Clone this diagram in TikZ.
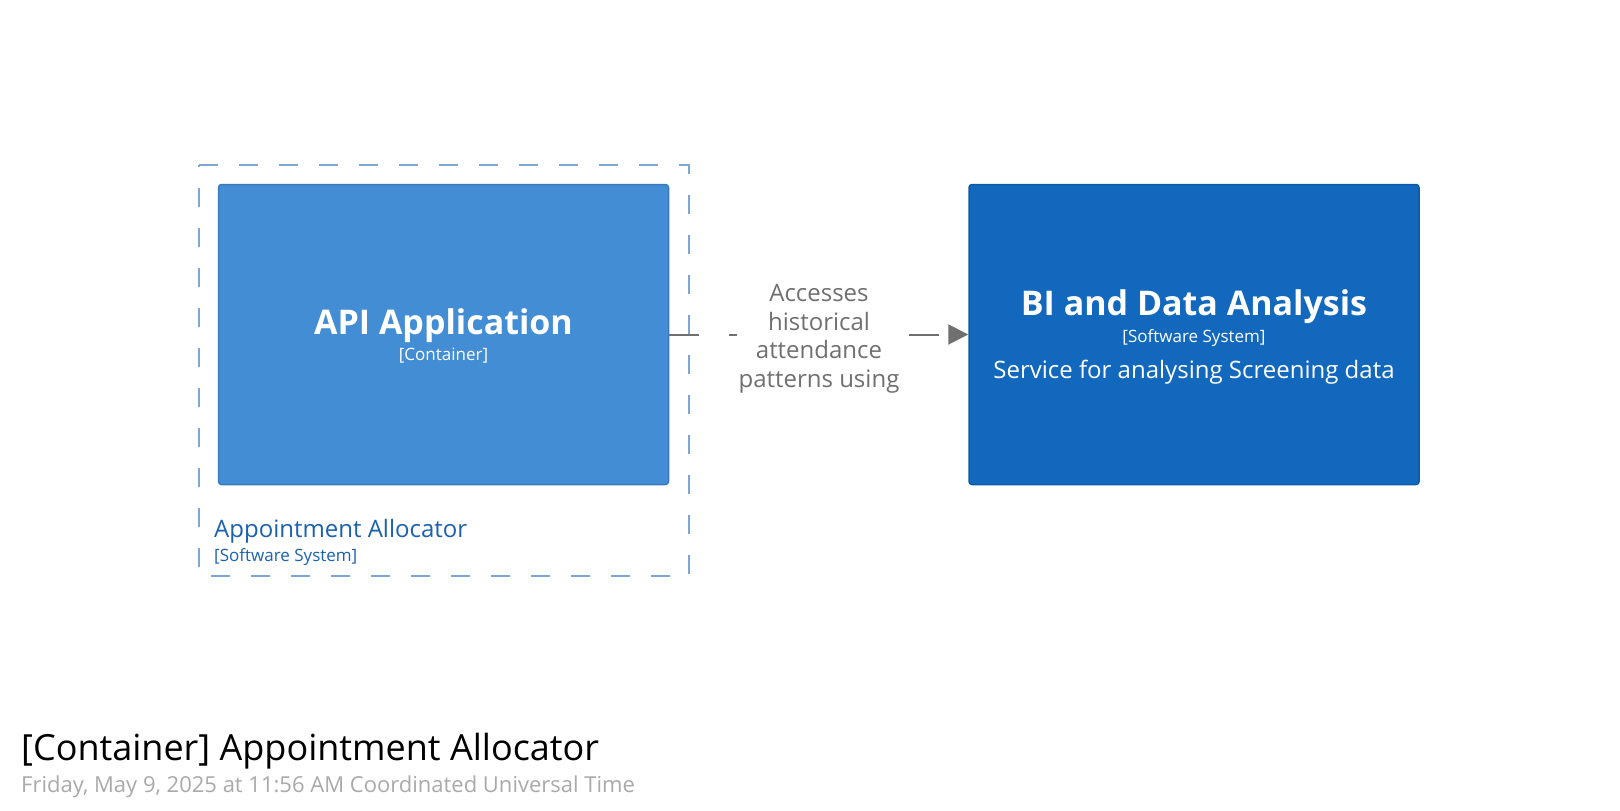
\documentclass[tikz,border=0pt]{standalone}
\usepackage{fontspec}
\setmainfont{Open Sans}
\usetikzlibrary{arrows.meta}
\definecolor{apifill}{HTML}{438DD5}
\definecolor{apiedge}{HTML}{3A7BBF}
\definecolor{bifill}{HTML}{1168BD}
\definecolor{biedge}{HTML}{0E5AA6}
\definecolor{bndline}{HTML}{7FA7D4}
\definecolor{bndtext}{HTML}{1A62AE}
\definecolor{relgray}{HTML}{707070}
\definecolor{dategray}{HTML}{AAAAAA}
\newcommand\fsz[2]{\fontsize{#1}{#2}\selectfont}
\begin{document}
\begin{tikzpicture}[x=1pt,y=-1pt,
  elem/.style={draw, line width=1.5pt, rounded corners=3pt, minimum width=450pt, minimum height=300pt, inner sep=0pt},
  apibox/.style={elem, fill=apifill, draw=apiedge},
  bibox/.style={elem, fill=bifill, draw=biedge},
  txt/.style={inner sep=0pt, anchor=base},
  nametext/.style={txt, text=white, font=\fsz{34}{40}\bfseries},
  typetext/.style={txt, text=white, font=\fsz{17}{20}},
  desctext/.style={txt, text=white, font=\fsz{24}{29}},
  bndname/.style={txt, anchor=base west, text=bndtext, font=\fsz{24}{29}},
  bndtype/.style={txt, anchor=base west, text=bndtext, font=\fsz{17}{20}},
  bndline/.style={draw=bndline, line width=2pt, dash pattern=on 19pt off 21pt},
  rel/.style={draw=relgray, line width=2pt, dash pattern=on 30pt off 30pt, -{Triangle[length=20pt,width=20pt]}},
  rellabel/.style={fill=white, text=relgray, inner sep=2pt, align=center, font=\fsz{24}{28.5}},
  titletext/.style={txt, anchor=base west, text=black, font=\fsz{36}{43}},
  datetext/.style={txt, anchor=base west, text=dategray, font=\fsz{22}{26}}
]
\useasboundingbox (0,0) rectangle (1620,811);
\fill[white] (0,0) rectangle (1620,811);
% boundary
\draw[bndline] (199,165) -- (689,165) -- (689,576) -- (199,576) -- cycle;
\node[bndname] (bndname) at (214,537) {Appointment Allocator};
\node[bndtype] (bndtype) at (214,561) {[Software System]};
% elements
\node[apibox] (api) at (443.5,334.5) {};
\node[nametext] (apiname) at (443.5,334) {API Application};
\node[typetext] (apitype) at (443.5,360) {[Container]};
\node[bibox] (bi) at (1194,334.5) {};
\node[nametext] (biname) at (1194,315) {BI and Data Analysis};
\node[typetext] (bitype) at (1194,342) {[Software System]};
\node[desctext] (bidesc) at (1194,378) {Service for analysing Screening data};
% relationship
\draw[rel] (api.east) -- (bi.west);
\node[rellabel] (lbl) at (819,339) {Accesses\\historical\\attendance\\patterns using};
% title
\node[titletext] (title) at (21,760) {[Container] Appointment Allocator};
\node[datetext] (date) at (21,792) {Friday, May 9, 2025 at 11:56 AM Coordinated Universal Time};
\end{tikzpicture}
\end{document}
